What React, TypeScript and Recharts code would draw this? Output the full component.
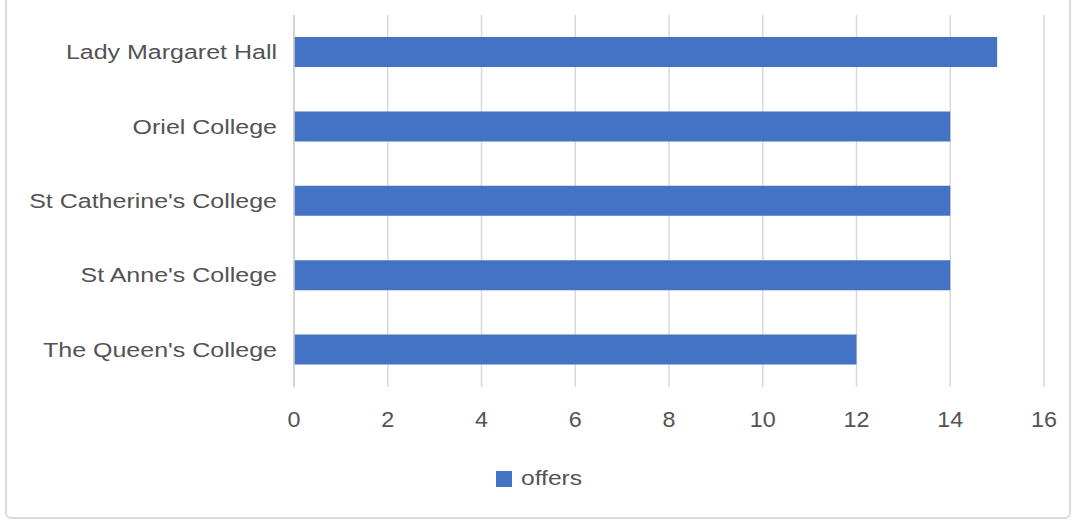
import React from 'react';
import { BarChart, Bar, XAxis, YAxis, CartesianGrid, Legend } from 'recharts';

const categories = [
  'Lady Margaret Hall',
  'Oriel College',
  "St Catherine's College",
  "St Anne's College",
  "The Queen's College",
];
const offers = [15, 14, 14, 14, 12];
const xTicks = [0, 2, 4, 6, 8, 10, 12, 14, 16];

const data = categories.map((name, i) => ({ name, offers: offers[i] }));

const FONT = '"Liberation Sans", Arial, Helvetica, sans-serif';
const TEXT_COLOR = '#535353';
const BAR_COLOR = '#4472C4';

const YTick = (props: any) => {
  const { x, y, payload } = props;
  return (
    <g transform={`translate(${x},${y})`}>
      <text
        x={0}
        y={7}
        transform="scale(1.25,1)"
        textAnchor="end"
        fill={TEXT_COLOR}
        fontSize={20}
        fontFamily={FONT}
      >
        {payload.value}
      </text>
    </g>
  );
};

const XTick = (props: any) => {
  const { x, y, payload } = props;
  return (
    <g transform={`translate(${x},${y})`}>
      <text
        x={0}
        y={34}
        transform="scale(1.06,1)"
        textAnchor="middle"
        fill={TEXT_COLOR}
        fontSize={22}
        fontFamily={FONT}
      >
        {payload.value}
      </text>
    </g>
  );
};

const LegendContent = () => (
  <div style={{ position: 'relative', width: 1076, height: 30 }}>
    <div
      style={{
        position: 'absolute',
        left: 496,
        top: 8,
        width: 16,
        height: 16,
        background: BAR_COLOR,
      }}
    />
    <div
      style={{
        position: 'absolute',
        left: 521,
        top: 0,
        fontFamily: FONT,
        fontSize: 20.5,
        color: TEXT_COLOR,
        transform: 'scaleX(1.2)',
        transformOrigin: 'left center',
        lineHeight: '30px',
        whiteSpace: 'nowrap',
      }}
    >
      offers
    </div>
  </div>
);

export default function App() {
  return (
    <div
      style={{
        position: 'absolute',
        left: 0,
        top: 0,
        width: 1076,
        height: 524,
        background: '#ffffff',
        overflow: 'hidden',
      }}
    >
      <div
        style={{
          position: 'absolute',
          left: 5,
          top: -12,
          width: 1066,
          height: 531,
          border: '2px solid #dcdcdc',
          borderRadius: 6,
          boxSizing: 'border-box',
        }}
      />
      <div style={{ position: 'absolute', left: 0, top: 0 }}>
        <BarChart
          width={1076}
          height={524}
          data={data}
          layout="vertical"
          margin={{ top: 15, right: 32, bottom: 77, left: 0 }}
        >
          <CartesianGrid
            horizontal={false}
            vertical={true}
            stroke="#dadada"
            strokeWidth={1.5}
          />
          <XAxis
            type="number"
            domain={[0, 16]}
            ticks={xTicks}
            axisLine={false}
            tickLine={false}
            tickMargin={0}
            height={60}
            tick={<XTick />}
            interval={0}
          />
          <YAxis
            type="category"
            dataKey="name"
            width={294}
            axisLine={{ stroke: '#cfcfcf', strokeWidth: 1.5 }}
            tickLine={false}
            tickMargin={11}
            tick={<YTick />}
            interval={0}
          />
          <Legend
            layout="vertical"
            align="center"
            verticalAlign="middle"
            wrapperStyle={{ top: 463, left: 0, width: 1076 }}
            content={<LegendContent />}
          />
          <Bar
            dataKey="offers"
            fill={BAR_COLOR}
            barSize={30}
            isAnimationActive={false}
          />
        </BarChart>
      </div>
    </div>
  );
}
